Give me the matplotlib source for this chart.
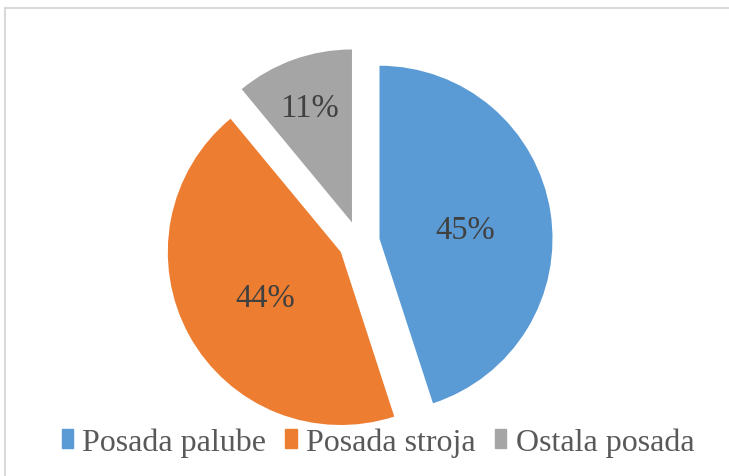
import matplotlib.pyplot as plt
import numpy as np
from matplotlib.patches import Rectangle

labels = ['Posada palube', 'Posada stroja', 'Ostala posada']
shares = [45, 44, 11]
colors = ['#5B9BD5', '#ED7D31', '#A5A5A5']
label_dist = [0.5, 0.5, 0.73]

plt.rcParams['font.family'] = ['Liberation Serif', 'DejaVu Serif']

fig = plt.figure(figsize=(7.29, 4.77), dpi=100)
W, H = 729, 477

# pie centre ~ (359, 243) px from top-left, radius ~173 px
r_px = 173
half = 1.3 * r_px
cx, cy = 359, H - 243
ax = fig.add_axes([(cx - half) / W, (cy - half) / H, 2 * half / W, 2 * half / H])

wedges, texts, autotexts = ax.pie(
    shares, colors=colors, startangle=90, counterclock=False,
    explode=[0.12] * 3, autopct='%1.0f%%', pctdistance=0.5,
    textprops=dict(color='#404040', fontsize=23.5),
    wedgeprops=dict(linewidth=0))

for w, t, d in zip(wedges, autotexts, label_dist):
    ang = np.deg2rad((w.theta1 + w.theta2) / 2)
    c = w.center
    t.set_position((c[0] + d * np.cos(ang), c[1] + d * np.sin(ang) - 0.025))

ax.set_xlim(-1.3, 1.3)
ax.set_ylim(-1.3, 1.3)
ax.set_aspect('equal')
ax.axis('off')

handles = [Rectangle((0, 0), 1, 1, color=c) for c in colors]
leg = fig.legend(handles, labels, loc='center', bbox_to_anchor=(378 / W, 1 - 443 / H),
                 ncol=3, frameon=False, fontsize=23, handlelength=0.35, handleheight=0.55,
                 handletextpad=0.3, columnspacing=0.6, labelcolor='#595959')

# light grey chart frame (cropped on right and bottom)
fig.patches.append(Rectangle((5 / W, -0.1), 1.2, (H - 9) / H + 0.1, transform=fig.transFigure,
                             fill=False, edgecolor='#D9D9D9', linewidth=1.5, clip_on=False))

fig.savefig('out.png', dpi=100)
